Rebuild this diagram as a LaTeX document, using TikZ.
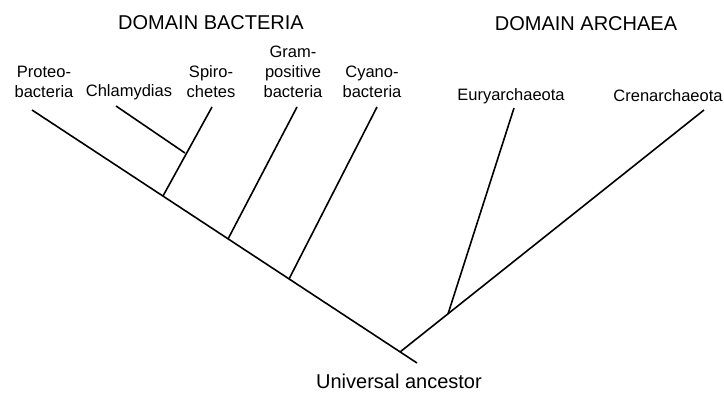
\documentclass[tikz,border=0pt]{standalone}
\usepackage{fontspec}
\setmainfont{Liberation Sans}

\begin{document}
\begin{tikzpicture}[x=1pt,y=-1pt,
  branch/.style={line width=1.6pt},
  taxon/.style={align=center,inner sep=0pt,font=\fontsize{16.5}{20}\selectfont},
  bigtext/.style={inner sep=0pt,font=\fontsize{20}{24}\selectfont}]
\useasboundingbox (0,0) rectangle (724,392);

\node[bigtext] (bact) at (211,23) {DOMAIN BACTERIA};
\node[bigtext] (arch) at (586,24) {DOMAIN ARCHAEA};

\node[taxon] (proteo) at (44,82) {Proteo-\\bacteria};
\node[taxon] (chlam) at (129,92) {Chlamydias};
\node[taxon] (spiro) at (211,82) {Spiro-\\chetes};
\node[taxon] (gram) at (293,72) {Gram-\\positive\\bacteria};
\node[taxon] (cyano) at (372,82) {Cyano-\\bacteria};
\node[taxon] (eury) at (511,96) {Euryarchaeota};
\node[taxon] (cren) at (668,96) {Crenarchaeota};
\node[bigtext] (ancestor) at (399,381) {Universal ancestor};

% tips and forks
\coordinate (tproteo) at (32,110);
\coordinate (tchlam) at (116,106);
\coordinate (tspiro) at (212,107);
\coordinate (tgram) at (297,107);
\coordinate (tcyano) at (377,107);
\coordinate (teury) at (514,108);
\coordinate (tcren) at (704,110);
\coordinate (root) at (400,352);
\coordinate (tail) at (417,363);
\coordinate (jspiro) at (185,153);
\coordinate (jbact1) at (163,196);
\coordinate (jbact2) at (228,239);
\coordinate (jbact3) at (289,279);
\coordinate (jarch) at (448,314);

\draw[branch] (tproteo) -- (tail);
\draw[branch] (root) -- (tcren);
\draw[branch] (tspiro) -- (jbact1);
\draw[branch] (tchlam) -- (jspiro);
\draw[branch] (tgram) -- (jbact2);
\draw[branch] (tcyano) -- (jbact3);
\draw[branch] (teury) -- (jarch);
\end{tikzpicture}
\end{document}
